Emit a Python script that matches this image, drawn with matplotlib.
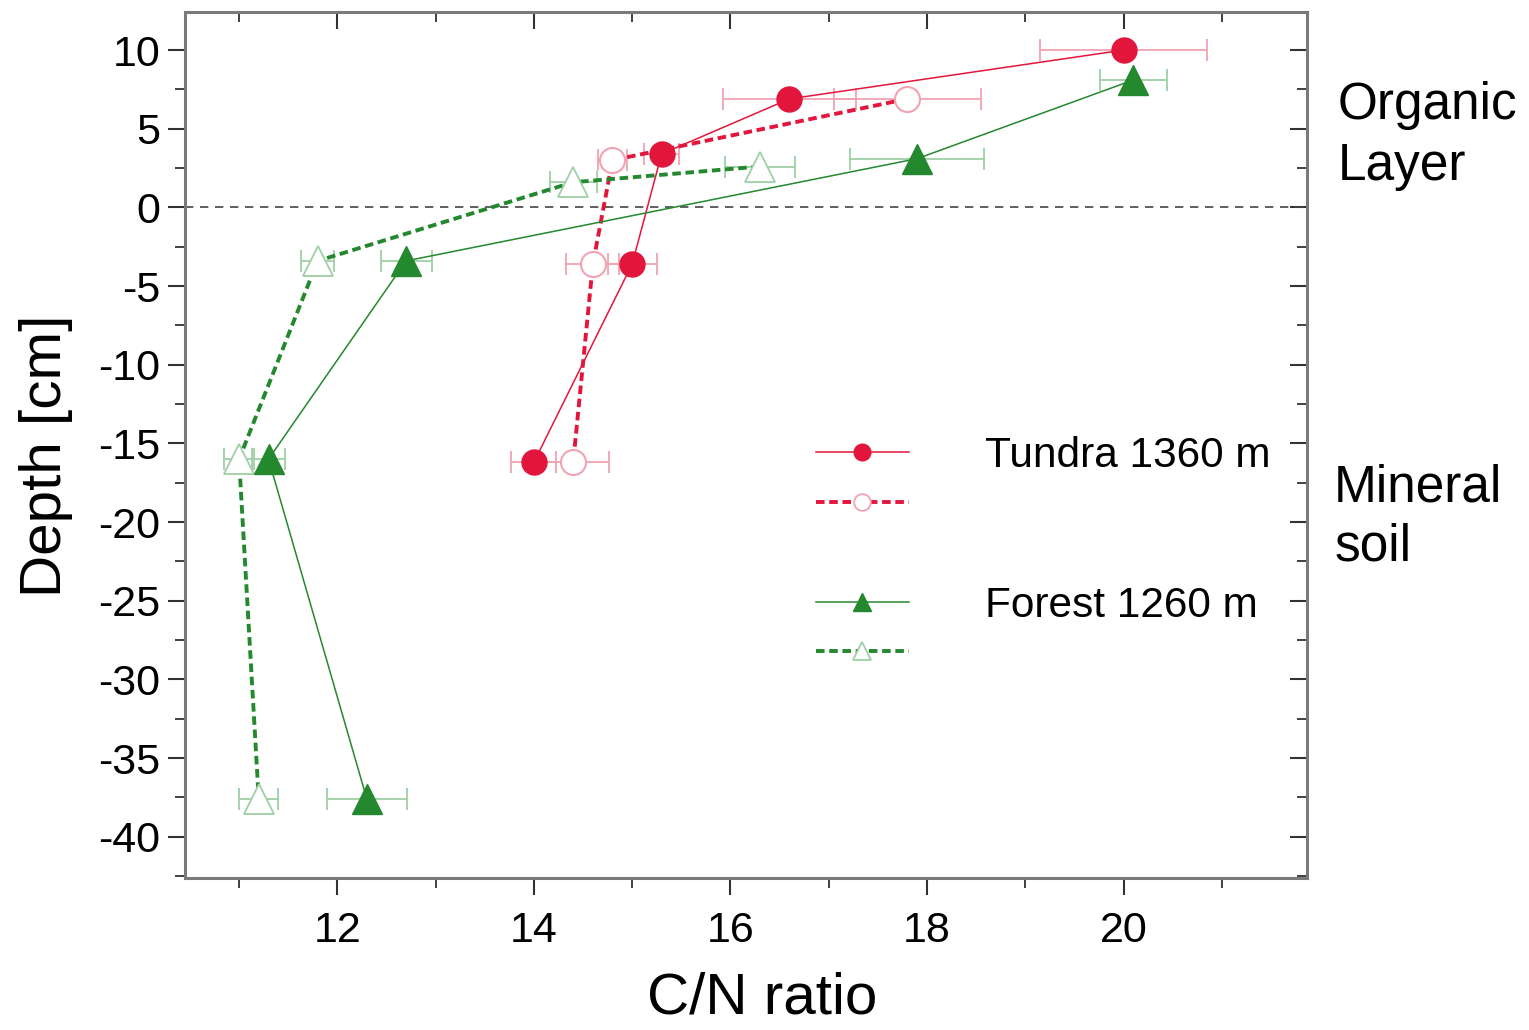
import matplotlib
matplotlib.use("Agg")
import matplotlib.pyplot as plt
from matplotlib.lines import Line2D
from matplotlib.ticker import MultipleLocator

plt.rcParams['font.family'] = ['Liberation Sans', 'DejaVu Sans']
plt.rcParams['axes.unicode_minus'] = False

# Tundra 1360 m, solid line / filled circles
tundra_a_cn = [20.0, 16.6, 15.3, 15.0, 14.0]
tundra_a_depth = [10.0, 6.9, 3.4, -3.6, -16.2]
tundra_a_err = [0.85, 0.68, 0.18, 0.25, 0.23]
# Tundra 1360 m, dashed line / open circles
tundra_b_cn = [17.8, 14.8, 14.6, 14.4]
tundra_b_depth = [6.9, 3.0, -3.6, -16.2]
tundra_b_err = [0.75, 0.15, 0.27, 0.36]
# Forest 1260 m, solid line / filled triangles
forest_a_cn = [20.1, 17.9, 12.7, 11.3, 12.3]
forest_a_depth = [8.1, 3.1, -3.4, -16.0, -37.6]
forest_a_err = [0.34, 0.68, 0.26, 0.17, 0.41]
# Forest 1260 m, dashed line / open triangles
forest_b_cn = [16.3, 14.4, 11.8, 11.0, 11.2]
forest_b_depth = [2.6, 1.6, -3.4, -16.0, -37.6]
forest_b_err = [0.36, 0.24, 0.17, 0.15, 0.20]

RED = '#e2163c'
RED_LIGHT = '#f2a3b3'
GREEN = '#24882f'
GREEN_LIGHT = '#9fd0a5'
AXIS_GRAY = '#7a7a7a'

fig = plt.figure(figsize=(15.29, 10.30), dpi=100)
ax = fig.add_axes([0.121, 0.148, 0.734, 0.840])

# error bars (light colour, behind)
for xs, ys, es, c in [(tundra_a_cn, tundra_a_depth, tundra_a_err, RED_LIGHT),
                      (tundra_b_cn, tundra_b_depth, tundra_b_err, RED_LIGHT),
                      (forest_a_cn, forest_a_depth, forest_a_err, GREEN_LIGHT),
                      (forest_b_cn, forest_b_depth, forest_b_err, GREEN_LIGHT)]:
    ax.errorbar(xs, ys, xerr=es, fmt='none', ecolor=c, elinewidth=1.3,
                capsize=8, capthick=1.3, zorder=2)

dash = (0, (2.2, 1.2))
ax.plot(tundra_b_cn, tundra_b_depth, color=RED, lw=2.8, ls=dash, marker='o', ms=18,
        mfc='white', mec=RED_LIGHT, mew=1.5, zorder=3)
ax.plot(forest_b_cn, forest_b_depth, color=GREEN, lw=2.8, ls=dash, marker='^', ms=21,
        mfc='white', mec=GREEN_LIGHT, mew=1.3, zorder=3)
ax.plot(tundra_a_cn, tundra_a_depth, color=RED, lw=1.1, marker='o', ms=18,
        mfc=RED, mec=RED, zorder=4)
ax.plot(forest_a_cn, forest_a_depth, color=GREEN, lw=1.1, marker='^', ms=21,
        mfc=GREEN, mec=GREEN, zorder=4)

ax.axhline(0, color='#444444', lw=1.2, ls=(0, (5, 4)), zorder=1)

ax.set_xlim(10.45, 21.87)
ax.set_ylim(-42.6, 12.4)
ax.xaxis.set_major_locator(MultipleLocator(2))
ax.xaxis.set_minor_locator(MultipleLocator(1))
ax.yaxis.set_major_locator(MultipleLocator(5))
ax.yaxis.set_minor_locator(MultipleLocator(2.5))
ax.set_xticks([12, 14, 16, 18, 20])
ax.tick_params(which='major', direction='out', length=12, width=1.5,
               color='#333333', labelsize=31, pad=6)
ax.tick_params(axis='x', which='major', pad=12)
ax.tick_params(which='minor', direction='out', length=7, width=1.3, color='#333333')

for sp in ax.spines.values():
    sp.set_color(AXIS_GRAY)
    sp.set_linewidth(2.2)

# inward ticks on top and right
top = ax.secondary_xaxis('top')
top.xaxis.set_major_locator(MultipleLocator(2))
top.xaxis.set_minor_locator(MultipleLocator(1))
top.tick_params(which='major', direction='in', length=12, width=1.5, color='#333333', labeltop=False)
top.tick_params(which='minor', direction='in', length=7, width=1.3, color='#333333')
top.spines['top'].set_color(AXIS_GRAY)
right = ax.secondary_yaxis('right')
right.yaxis.set_major_locator(MultipleLocator(5))
right.yaxis.set_minor_locator(MultipleLocator(2.5))
right.tick_params(which='major', direction='in', length=12, width=1.5, color='#333333', labelright=False)
right.tick_params(which='minor', direction='in', length=7, width=1.3, color='#333333')
right.spines['right'].set_color(AXIS_GRAY)

ax.set_xlabel('C/N ratio', fontsize=42)
ax.xaxis.set_label_coords(0.514, -0.157, transform=ax.transAxes)
ax.xaxis.label.set_va('baseline')
ax.set_ylabel('Depth [cm]', fontsize=42)
ax.yaxis.set_label_coords(-0.100, 0.487, transform=ax.transAxes)

ax.text(1.027, 0.857, 'Organic\nLayer', transform=ax.transAxes, fontsize=37,
        va='center', ha='left', linespacing=1.3, clip_on=False)
ax.text(1.024, 0.416, 'Mineral\nsoil', transform=ax.transAxes, fontsize=37,
        va='center', ha='left', linespacing=1.25, clip_on=False)

handles = [
    Line2D([], [], color=RED, lw=1.1, marker='o', ms=12, mfc=RED, mec=RED),
    Line2D([], [], color=RED, lw=2.8, ls=dash, marker='o', ms=12, mfc='white', mec=RED_LIGHT, mew=1.3),
    Line2D([], [], color='none'),
    Line2D([], [], color=GREEN, lw=1.1, marker='^', ms=13, mfc=GREEN, mec=GREEN),
    Line2D([], [], color=GREEN, lw=2.8, ls=dash, marker='^', ms=13, mfc='white', mec=GREEN_LIGHT, mew=1.3),
]
labels = ['Tundra 1360 m', ' ', ' ', 'Forest 1260 m', ' ']
ax.legend(handles, labels, loc='upper left', bbox_to_anchor=(0.562, 0.510),
          frameon=False, fontsize=30.5, handlelength=2.2, handletextpad=1.8,
          labelspacing=0.23, borderpad=0, borderaxespad=0)

fig.savefig('out.png', dpi=100)
